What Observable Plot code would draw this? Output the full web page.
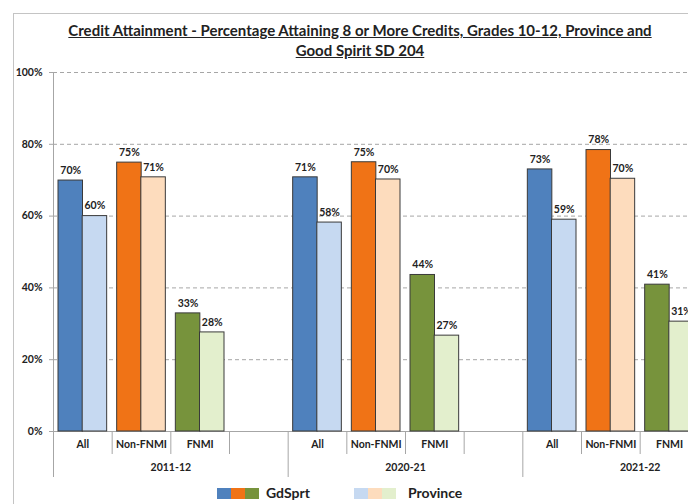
<!DOCTYPE html>
<html>
<head>
<meta charset="utf-8">
<script src="https://cdn.jsdelivr.net/npm/d3@7"></script>
<script src="https://cdn.jsdelivr.net/npm/@observablehq/plot@0.6"></script>
<style>
  html, body { margin: 0; padding: 0; background: #fff; overflow: hidden; }
  #wrap { position: relative; width: 780px; height: 504px; overflow: hidden; font-family: Lato, "Open Sans", sans-serif; }
  #border { position: absolute; left: 13px; top: 13px; width: 760px; height: 520px; border: 1px solid #c4c4c4; pointer-events: none; }
  #title { height: 64px; width: 720px; box-sizing: border-box; padding-top: 20px; text-align: center; font-weight: bold; font-size: 15px; line-height: 20px; color: #222; text-decoration: underline; }
  #chart svg { display: block; }
  #legend { position: relative; height: 22px; font-weight: bold; font-size: 14px; color: #222; }
  .sw { position: absolute; top: 6px; height: 11px; display: flex; }
  .sw span { display: block; width: 14px; height: 11px; }
  .lt { position: absolute; top: 1px; line-height: 20px; }
</style>
</head>
<body>
<div id="wrap">
  <div id="border"></div>
  <div id="title">Credit Attainment - Percentage Attaining 8 or More Credits, Grades 10-12, Province and<br>Good Spirit SD 204</div>
  <div id="chart"></div>
  <div id="legend"></div>
</div>
<script>
// ---- data ----
const years = ["2011-12", "2020-21", "2021-22"];
const groups = ["All", "Non-FNMI", "FNMI"];
const seriesNames = ["GdSprt", "Province"];
// values per year, in group order All, Non-FNMI, FNMI
const gdSprt = [69.9, 74.9, 32.9, 70.8, 75.0, 43.6, 73.0, 78.4, 40.9];
const province = [60.0, 70.8, 27.6, 58.2, 70.2, 26.7, 59.0, 70.4, 30.6];
const yTicks = [0, 20, 40, 60, 80, 100];

// ---- styles ----
const darkColors = ["#4f81bd", "#f07316", "#77933c"];
const lightColors = ["#c6d9f1", "#fddcbd", "#e3efcd"];

// ---- build table ----
const slots = [];
years.forEach(y => { groups.forEach(g => slots.push(`${y}|${g}`)); slots.push(`${y}|gap`); });
const rows = [];
years.forEach((y, yi) => groups.forEach((g, gi) => {
  rows.push({slot: `${y}|${g}`, group: g, series: "GdSprt", value: gdSprt[yi * 3 + gi]});
  rows.push({slot: `${y}|${g}`, group: g, series: "Province", value: province[yi * 3 + gi]});
}));
const colorDomain = [], colorRange = [];
groups.forEach((g, i) => {
  colorDomain.push(`${g}|GdSprt`); colorRange.push(darkColors[i]);
  colorDomain.push(`${g}|Province`); colorRange.push(lightColors[i]);
});

const W = 780, ML = 53, MR = 23;
const bw = (W - ML - MR) / slots.length;
const barW = 24.5, pad = 5;

const yearStarts = slots.filter(s => s.endsWith("|All"));
const innerStarts = slots.filter(s => !s.endsWith("|All"));
const labelSlots = slots.filter(s => !s.endsWith("|gap"));
const gray = "#a6a6a6";

const chart = Plot.plot({
  width: W,
  height: 418,
  marginLeft: ML,
  marginRight: MR,
  marginTop: 8,
  marginBottom: 51,
  style: {fontFamily: "Lato, 'Open Sans', sans-serif", fontSize: "10.5px", fontWeight: "bold", color: "#222", background: "transparent", overflow: "visible"},
  x: {type: "band", domain: slots, padding: 0, round: false},
  y: {domain: [0, 100]},
  color: {domain: colorDomain, range: colorRange},
  marks: [
    Plot.ruleY(yTicks.filter(d => d > 0), {stroke: gray, strokeDasharray: "4,3"}),
    Plot.ruleY([0], {stroke: gray}),
    Plot.frame({anchor: "left", stroke: gray}),
    Plot.axisY(yTicks, {label: null, tickFormat: d => d + "%", tickSize: 4, tickPadding: 7, stroke: gray, color: "#222"}),
    Plot.axisX(innerStarts, {label: null, tickSize: 23, dx: -bw / 2, tickFormat: () => "", stroke: gray}),
    Plot.axisX(yearStarts, {label: null, tickSize: 46, dx: -bw / 2, tickFormat: () => "", stroke: gray}),
    Plot.text(labelSlots, {x: d => d, text: d => d.split("|")[1], frameAnchor: "bottom", dy: 16}),
    Plot.text(years, {x: d => `${d}|Non-FNMI`, text: d => d, frameAnchor: "bottom", dx: bw / 2, dy: 39}),
    Plot.barY(rows.filter(d => d.series === "GdSprt"), {x: "slot", y: "value", fill: d => `${d.group}|${d.series}`, stroke: "#3a3a3a", strokeWidth: 1, insetLeft: pad, insetRight: bw - pad - barW}),
    Plot.barY(rows.filter(d => d.series === "Province"), {x: "slot", y: "value", fill: d => `${d.group}|${d.series}`, stroke: "#3a3a3a", strokeWidth: 1, insetLeft: bw - pad - barW, insetRight: pad}),
    Plot.text(rows.filter(d => d.series === "GdSprt"), {x: "slot", y: "value", text: d => Math.round(d.value) + "%", dx: pad + barW / 2 - bw / 2, dy: -10, fill: "#222"}),
    Plot.text(rows.filter(d => d.series === "Province"), {x: "slot", y: "value", text: d => Math.round(d.value) + "%", dx: bw / 2 - pad - barW / 2, dy: -10, fill: "#222"})
  ]
});
document.getElementById("chart").appendChild(chart);

// ---- legend ----
const legend = document.getElementById("legend");
function addItem(left, colors, label, textLeft) {
  const sw = document.createElement("div");
  sw.className = "sw"; sw.style.left = left + "px";
  colors.forEach(c => { const s = document.createElement("span"); s.style.background = c; sw.appendChild(s); });
  legend.appendChild(sw);
  const t = document.createElement("div");
  t.className = "lt"; t.style.left = textLeft + "px"; t.textContent = label;
  legend.appendChild(t);
}
addItem(217, darkColors, seriesNames[0], 266);
addItem(354, lightColors, seriesNames[1], 408);
</script>
</body>
</html>
